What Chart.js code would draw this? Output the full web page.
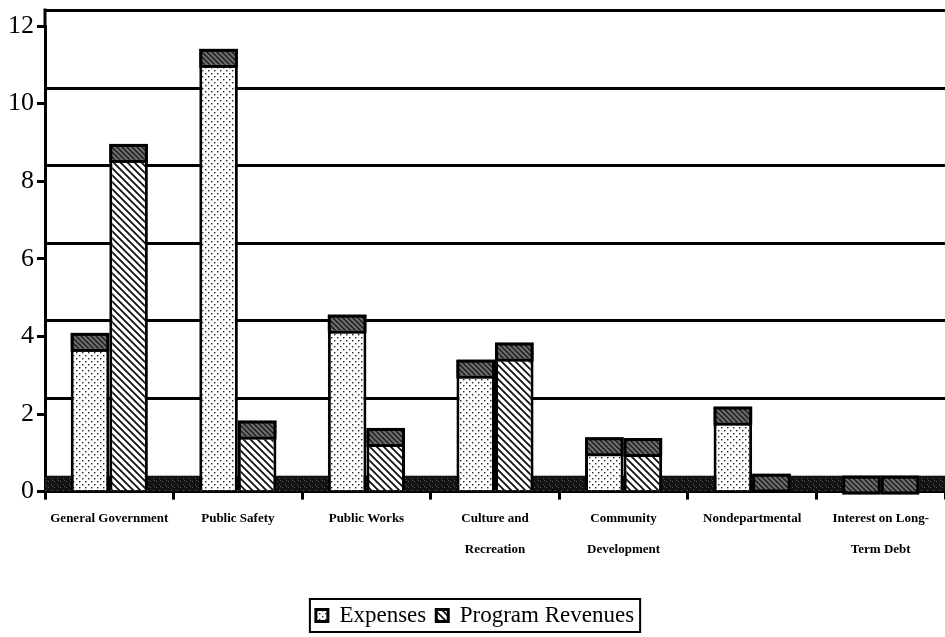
<!DOCTYPE html>
<html>
<head>
<meta charset="utf-8">
<script src="https://cdn.jsdelivr.net/npm/chart.js@4"></script>
<style>
  body { margin: 0; background: #fff; }
  #wrap { width: 945px; height: 637px; position: relative; }
</style>
</head>
<body>
<div id="wrap"><canvas id="chart"></canvas></div>
<script>
// data (millions)
const categories = [
  'General Government',
  'Public Safety',
  'Public Works',
  ['Culture and', 'Recreation'],
  ['Community', 'Development'],
  'Nondepartmental',
  ['Interest on Long-', 'Term Debt']
];
const expenses = [3.68, 11.0, 4.15, 2.99, 0.99, 1.78, 0];
const programRevenues = [8.55, 1.42, 1.23, 3.43, 0.97, 0.05, 0];
const yTicks = [0, 2, 4, 6, 8, 10, 12];

// depth of the fake 3d look, in axis units
const depthUnits = 0.41;
const serif = '"Liberation Serif", "Times New Roman", serif';

// small tile patterns to mimic the scanned fills
function makePattern(size, draw) {
  const c = document.createElement('canvas');
  c.width = size;
  c.height = size;
  const g = c.getContext('2d');
  draw(g, size);
  return g.createPattern(c, 'repeat');
}

const dotFill = makePattern(6, (g, s) => {
  g.fillStyle = '#fff';
  g.fillRect(0, 0, s, s);
  g.fillStyle = '#222';
  g.fillRect(1, 1, 1.4, 1.4);
  g.fillRect(4, 4, 1.4, 1.4);
});

const hatchFill = makePattern(7, (g, s) => {
  g.fillStyle = '#fff';
  g.fillRect(0, 0, s, s);
  g.strokeStyle = '#111';
  g.lineWidth = 1.8;
  g.beginPath();
  g.moveTo(-1, -1); g.lineTo(s + 1, s + 1);
  g.moveTo(s - 2, -2); g.lineTo(s + 2, 2);
  g.moveTo(-2, s - 2); g.lineTo(2, s + 2);
  g.stroke();
});

const capFill = makePattern(5, (g, s) => {
  g.fillStyle = '#6e6e6e';
  g.fillRect(0, 0, s, s);
  g.strokeStyle = '#1a1a1a';
  g.lineWidth = 1.4;
  g.beginPath();
  g.moveTo(-1, -1); g.lineTo(s + 1, s + 1);
  g.moveTo(s - 2, -2); g.lineTo(s + 2, 2);
  g.moveTo(-2, s - 2); g.lineTo(2, s + 2);
  g.stroke();
});

const floorFill = makePattern(6, (g, s) => {
  g.fillStyle = '#121212';
  g.fillRect(0, 0, s, s);
  g.fillStyle = '#5a5a5a';
  g.fillRect(0, 1, 1, 1);
  g.fillRect(3, 4, 1, 1);
  g.fillRect(4, 0, 1, 1);
});

// back wall: floor band, offset grid lines and frame
const wallPlugin = {
  id: 'wall',
  beforeDatasetsDraw(chart) {
    const { ctx, chartArea, scales } = chart;
    const y = scales.y;
    const depth = y.getPixelForValue(0) - y.getPixelForValue(depthUnits);
    ctx.save();
    ctx.fillStyle = floorFill;
    ctx.fillRect(chartArea.left, y.getPixelForValue(0) - depth, chartArea.right - chartArea.left, depth);
    ctx.strokeStyle = '#000';
    ctx.lineWidth = 3;
    ctx.beginPath();
    yTicks.slice(1).forEach(v => {
      const py = Math.round(y.getPixelForValue(v) - depth) + 0.5;
      ctx.moveTo(chartArea.left, py);
      ctx.lineTo(chartArea.right, py);
    });
    // axis line goes up to the top of the back wall
    ctx.moveTo(chartArea.left, y.getPixelForValue(12) - depth - 1.5);
    ctx.lineTo(chartArea.left, chartArea.top);
    ctx.stroke();
    ctx.restore();
  },
  afterDatasetsDraw(chart) {
    const { ctx, scales } = chart;
    const y = scales.y;
    const depth = y.getPixelForValue(0) - y.getPixelForValue(depthUnits);
    ctx.save();
    ctx.lineWidth = 3;
    ctx.strokeStyle = '#000';
    chart.data.datasets.forEach((ds, i) => {
      chart.getDatasetMeta(i).data.forEach(bar => {
        const left = bar.x - bar.width / 2;
        ctx.fillStyle = capFill;
        ctx.fillRect(left, bar.y - depth, bar.width, depth);
        ctx.strokeRect(left + 1.5, bar.y - depth + 1.5, bar.width - 3, depth);
      });
    });
    ctx.restore();
  },
  afterDraw(chart) {
    const { ctx, legend } = chart;
    if (!legend || !legend.legendHitBoxes.length) return;
    const boxes = legend.legendHitBoxes;
    const left = Math.min(...boxes.map(b => b.left)) - 6;
    const right = Math.max(...boxes.map(b => b.left + b.width)) + 6;
    const top = Math.min(...boxes.map(b => b.top)) - 5;
    const bottom = Math.max(...boxes.map(b => b.top + b.height)) + 5;
    ctx.save();
    ctx.strokeStyle = '#000';
    ctx.lineWidth = 2;
    ctx.strokeRect(left, top, right - left, bottom - top);
    ctx.restore();
  }
};

new Chart(document.getElementById('chart'), {
  type: 'bar',
  data: {
    labels: categories,
    datasets: [
      {
        label: 'Expenses',
        data: expenses,
        backgroundColor: dotFill,
        borderColor: '#000',
        borderWidth: 3,
        borderSkipped: 'bottom'
      },
      {
        label: 'Program Revenues',
        data: programRevenues,
        backgroundColor: hatchFill,
        borderColor: '#000',
        borderWidth: 3,
        borderSkipped: 'bottom'
      }
    ]
  },
  options: {
    responsive: true,
    maintainAspectRatio: false,
    animation: false,
    layout: { padding: { top: 26, left: 5, right: 0, bottom: 0 } },
    datasets: {
      bar: { categoryPercentage: 0.6, barPercentage: 1.0 }
    },
    plugins: {
      legend: {
        position: 'bottom',
        labels: {
          color: '#000',
          font: { family: serif, size: 23 },
          boxWidth: 12,
          boxHeight: 12,
          padding: 10
        }
      },
      tooltip: { enabled: false }
    },
    scales: {
      x: {
        grid: {
          drawOnChartArea: false,
          drawTicks: true,
          tickLength: 8,
          tickColor: '#000',
          lineWidth: 3
        },
        border: { display: true, color: '#000', width: 3 },
        ticks: {
          color: '#000',
          maxRotation: 0,
          autoSkip: false,
          padding: 3,
          font: { family: serif, size: 13, weight: 'bold', lineHeight: 2.4 }
        },
        afterFit: axis => {
          // leave room between the labels and the legend
          axis.height += 26;
        }
      },
      y: {
        min: 0,
        max: 12,
        afterBuildTicks: axis => {
          axis.ticks = yTicks.map(v => ({ value: v }));
        },
        grid: {
          drawOnChartArea: false,
          drawTicks: true,
          tickLength: 8,
          tickColor: '#000',
          lineWidth: 3
        },
        border: { display: true, color: '#000', width: 3 },
        ticks: {
          color: '#000',
          padding: 3,
          font: { family: serif, size: 26 }
        }
      }
    }
  },
  plugins: [wallPlugin]
});
</script>
</body>
</html>
